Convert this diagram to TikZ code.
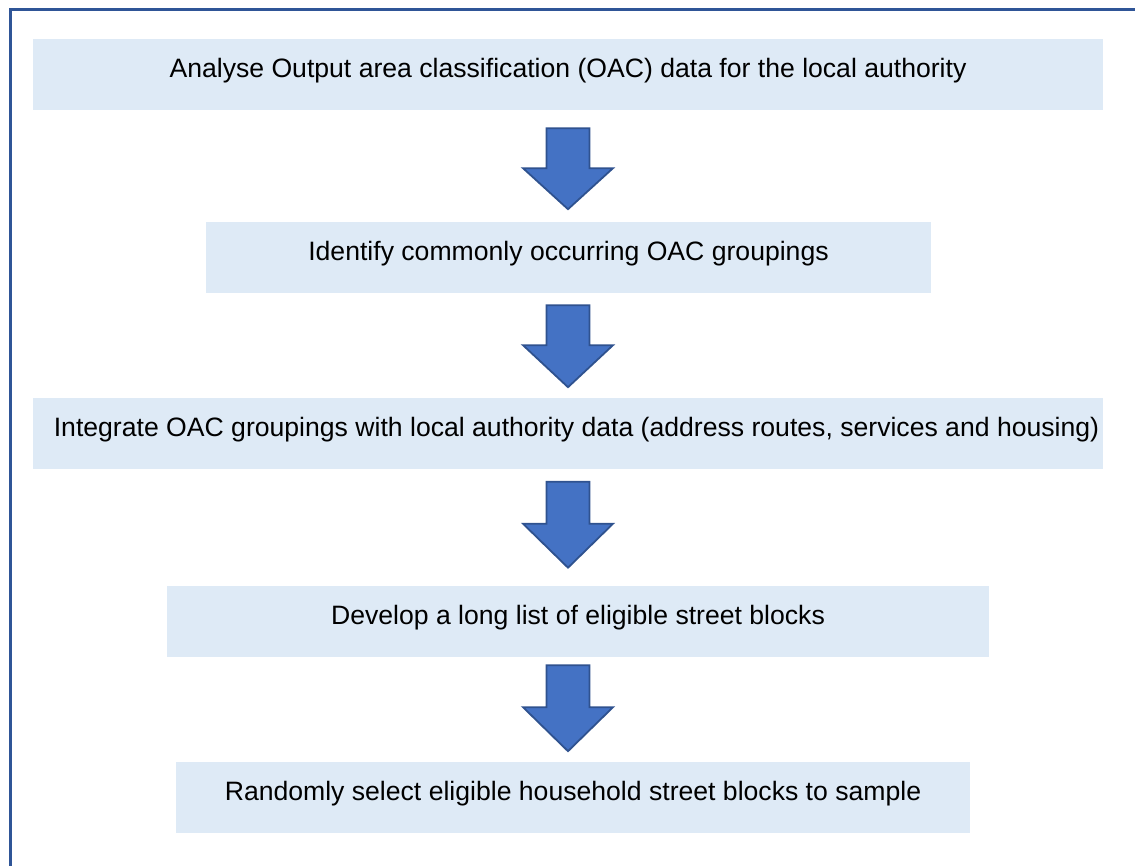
\documentclass[tikz,border=0pt]{standalone}
\usepackage{fontspec}
\setmainfont{Liberation Sans}
\usetikzlibrary{calc}
\definecolor{stepfill}{HTML}{DEEAF6}
\definecolor{arrowfill}{HTML}{4472C4}
\definecolor{arrowline}{HTML}{2F528F}
\definecolor{frameline}{HTML}{2F5597}
\tikzset{
  stepbox/.style={rectangle, fill=stepfill, draw=none, minimum height=71pt,
    inner sep=0pt, font=\fontsize{26.6}{30}\selectfont, text height=19.5pt, text depth=13pt},
  arrowstyle/.style={fill=arrowfill, draw=arrowline, line width=1.8pt, line join=miter},
}
% block arrow pointing down: #1 top centre, #2 depth of head base, #3 total length
\newcommand\flowarrow[3]{%
  \begin{scope}[shift={(#1)}]
    \filldraw[arrowstyle] (-21.5,0) -- (21.5,0) -- (21.5,#2) -- (45,#2) -- (0,#3)
      -- (-45,#2) -- (-21.5,#2) -- cycle;
  \end{scope}}
\begin{document}
\begin{tikzpicture}[x=1pt, y=-1pt]
  \useasboundingbox (0,0) rectangle (1135,866);
  % frame
  \draw[frameline, line width=3pt] (10,866) -- (10,10) -- (1135,10);
  % steps
  \node[stepbox, minimum width=1070pt] (b1) at (568,74.5)
    {Analyse Output area classification (OAC) data for the local authority};
  \node[stepbox, minimum width=725pt] (b2) at (568.5,257.5)
    {Identify commonly occurring OAC groupings};
  \node[stepbox, minimum width=1070pt] (b3) at (568,433.5)
    {\hspace{17pt}Integrate OAC groupings with local authority data (address routes, services and housing)};
  \node[stepbox, minimum width=822pt] (b4) at (578,621.5)
    {Develop a long list of eligible street blocks};
  \node[stepbox, minimum width=794pt] (b5) at (573,797.5)
    {Randomly select eligible household street blocks to sample};
  % arrows between the steps
  \coordinate (a1) at ($(b1.south)+(0,18)$);
  \coordinate (a2) at ($(b2.south -| b1.south)+(0,12)$);
  \coordinate (a3) at ($(b3.south)+(0,12.5)$);
  \coordinate (a4) at ($(b4.south -| b1.south)+(0,8)$);
  \flowarrow{a1}{40}{81}
  \flowarrow{a2}{40}{82}
  \flowarrow{a3}{42}{86}
  \flowarrow{a4}{42}{86}
\end{tikzpicture}
\end{document}
